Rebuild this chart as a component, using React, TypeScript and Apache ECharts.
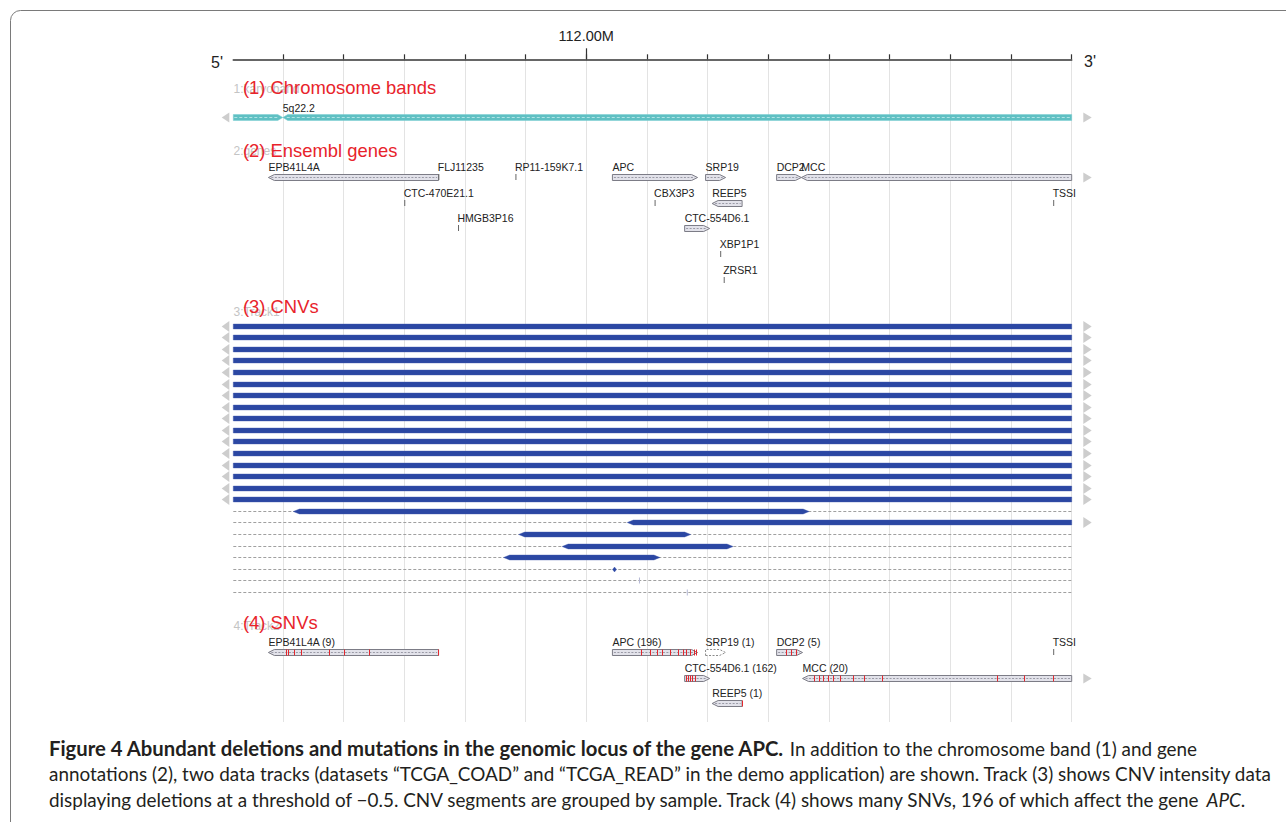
import React, { useEffect, useRef } from "react";
import * as echarts from "echarts";

// ---------------- data ----------------
const VIEW_START = 111.4185; // Mb, left edge of the view
const VIEW_END = 112.8; // Mb, right edge of the view
const tickValues = [111.5, 111.6, 111.7, 111.8, 111.9, 112.0, 112.1, 112.2, 112.3, 112.4, 112.5, 112.6, 112.7, 112.8];
const majorTickValues = [112.0];
const majorTickLabel = "112.00M";

// chromosome bands (Mb)
const bandNames = ["5q22.1", "5q22.2"];
const bandStarts = [109.6, 111.5];
const bandEnds = [111.5, 113.1];

// Ensembl genes: name, start, end (Mb), strand (+1/-1, 0 = tiny), row
const ensemblGenes: [string, number, number, number, number][] = [
  ["EPB41L4A", 111.4763, 111.7568, -1, 0],
  ["FLJ11235", 111.7563, 111.7563, 0, 0],
  ["RP11-159K7.1", 111.8834, 111.8834, 0, 0],
  ["APC", 112.0432, 112.1835, 1, 0],
  ["SRP19", 112.1967, 112.2297, 1, 0],
  ["DCP2", 112.3138, 112.3545, 1, 0],
  ["MCC", 112.3545, 112.8245, -1, 0],
  ["CTC-470E21.1", 111.7002, 111.7002, 0, 1],
  ["CBX3P3", 112.1127, 112.1127, 0, 1],
  ["REEP5", 112.2075, 112.2569, -1, 1],
  ["TSSI", 112.7695, 112.7695, 0, 1],
  ["HMGB3P16", 111.7888, 111.7888, 0, 2],
  ["CTC-554D6.1", 112.1622, 112.2035, 1, 2],
  ["XBP1P1", 112.2208, 112.2208, 0, 3],
  ["ZRSR1", 112.2266, 112.2266, 0, 4],
];

// CNV deletion segments (Mb), one per sample row
const cnvSegments: [number, number][] = [
  [111.3, 113.0],
  [111.3, 113.0],
  [111.3, 113.0],
  [111.3, 113.0],
  [111.3, 113.0],
  [111.3, 113.0],
  [111.3, 113.0],
  [111.3, 113.0],
  [111.3, 113.0],
  [111.3, 113.0],
  [111.3, 113.0],
  [111.3, 113.0],
  [111.3, 113.0],
  [111.3, 113.0],
  [111.3, 113.0],
  [111.3, 113.0],
  [111.5175, 112.3673],
  [112.0677, 113.0],
  [111.8888, 112.1721],
  [111.9604, 112.2419],
  [111.864, 112.1215],
  [112.0434, 112.05],
  [112.0878, 112.0879],
  [112.1666, 112.1667],
];

// SNV-annotated genes: label, start, end (Mb), strand, row, dashed outline
const snvGenes: [string, number, number, number, number, number][] = [
  ["EPB41L4A (9)", 111.4763, 111.7568, -1, 0, 0],
  ["APC (196)", 112.0432, 112.1835, 1, 0, 0],
  ["SRP19 (1)", 112.1967, 112.2297, 1, 0, 1],
  ["DCP2 (5)", 112.3138, 112.3565, 1, 0, 0],
  ["TSSI", 112.7695, 112.7695, 0, 0, 0],
  ["CTC-554D6.1 (162)", 112.1622, 112.2035, 1, 1, 0],
  ["MCC (20)", 112.3565, 112.8245, -1, 1, 0],
  ["REEP5 (1)", 112.2075, 112.2569, -1, 2, 0],
];

// SNV sites: position (Mb), row
const snvSites: [number, number][] = [
  [111.505, 0], [111.506, 0], [111.5088, 0], [111.5187, 0], [111.5302, 0],
  [111.5764, 0], [111.6012, 0], [111.6424, 0], [111.755, 0],
  [112.0908, 0], [112.1045, 0], [112.116, 0], [112.1254, 0], [112.1375, 0],
  [112.1512, 0], [112.1594, 0], [112.165, 0], [112.171, 0], [112.1776, 0], [112.1804, 0],
  [112.3292, 0], [112.3375, 0], [112.3457, 0],
  [112.1638, 1], [112.1671, 1], [112.1704, 1], [112.1746, 1], [112.1787, 1],
  [112.3756, 1], [112.3838, 1], [112.3895, 1], [112.3977, 1], [112.406, 1], [112.4185, 1],
  [112.4389, 1], [112.4581, 1], [112.4873, 1], [112.6771, 1], [112.7212, 1], [112.77, 1],
  [112.2565, 2],
];

const trackIds = ["1:karyoband", "2:genes", "3:Track1", "4:Track2"];
const trackTitles = ["(1) Chromosome bands", "(2) Ensembl genes", "(3) CNVs", "(4) SNVs"];

const captionBold = "Figure 4 Abundant deletions and mutations in the genomic locus of the gene APC.";
const captionLine1 = " In addition to the chromosome band (1) and gene";
const captionLine2 =
  "annotations (2), two data tracks (datasets \u201CTCGA_COAD\u201D and \u201CTCGA_READ\u201D in the demo application) are shown. Track (3) shows CNV intensity data";
const captionLine3a =
  "displaying deletions at a threshold of \u22120.5. CNV segments are grouped by sample. Track (4) shows many SNVs, 196 of which affect the gene";
const captionLine3b = "APC";
const captionLine3c = ".";

// ---------------- layout (pixels) ----------------
const W = 1286;
const H = 822;
const GRID = { left: 233.3, right: 214.3, top: 59.3, bottom: 100 };
const Y_MAX = H - GRID.top - GRID.bottom;
const ROWS = { band: 57.4, gene0: 117.4, geneStep: 25.8, cnv0: 266.4, cnvStep: 11.57, snv0: 593, snvStep: 25.5 };
const trackLabelY = [
  [89, 87.5],
  [150.5, 150],
  [311.5, 306.5],
  [625.5, 622],
];
const captionY = [748, 773.5, 799];

const SMALL_FONT = '10.5px "Liberation Sans", Arial, sans-serif';
const CAP_FONT = "Lato";
const CAP_SIZE = 18.9;
const CAP_BOLD_SIZE = 20.3;

function txt(text: string, x: number, y: number, font: string, fill: string, align = "left") {
  return {
    type: "text",
    style: { text, x, y, font, fill, align, verticalAlign: "middle", textAlign: align, textVerticalAlign: "middle" },
  };
}

function barPoints(x0: number, x1: number, y: number, h: number, tapL: number, tapR: number) {
  const hh = h / 2;
  const pts: number[][] = [];
  if (tapL) {
    pts.push([x0, y], [x0 + tapL, y - hh]);
  } else {
    pts.push([x0, y + hh], [x0, y - hh]);
  }
  if (tapR) {
    pts.push([x1 - tapR, y - hh], [x1, y], [x1 - tapR, y + hh]);
  } else {
    pts.push([x1, y - hh], [x1, y + hh]);
  }
  if (tapL) pts.push([x0 + tapL, y + hh]);
  return pts;
}

function leftTri(left: number, y: number, hh: number) {
  return {
    type: "polygon",
    shape: { points: [[left - 11.6, y], [left - 4, y - hh], [left - 4, y + hh]] },
    style: { fill: "#cdcdcd" },
  };
}
function rightTri(right: number, y: number, hh: number) {
  return {
    type: "polygon",
    shape: { points: [[right + 20, y], [right + 11.6, y - hh], [right + 11.6, y + hh]] },
    style: { fill: "#cdcdcd" },
  };
}

function makeGeneRender(labels: string[], strands: number[], dashedOutline: number[]) {
  return (params: any, api: any) => {
    const i = params.dataIndex;
    const cs = params.coordSys;
    const left = cs.x;
    const right = cs.x + cs.width;
    const s = api.value(0);
    const e = api.value(1);
    const yv = api.value(2);
    const p0 = api.coord([s, yv]);
    const x0raw = p0[0];
    const x1raw = api.coord([e, yv])[0];
    const y = Math.round(p0[1]);
    const children: any[] = [];
    if (e <= s) {
      children.push({
        type: "line",
        shape: { x1: x0raw + 0.5, y1: y - 3, x2: x0raw + 0.5, y2: y + 3 },
        style: { stroke: "#666", lineWidth: 1 },
      });
      children.push(txt(labels[i], x0raw - 0.5, y - 10, SMALL_FONT, "#222"));
    } else {
      const x0 = Math.max(x0raw, left);
      const x1 = Math.min(x1raw, right);
      const w = x1 - x0;
      const t = Math.min(6, w / 2);
      const tapL = strands[i] < 0 && x0raw >= left ? t : 0;
      const tapR = strands[i] > 0 && x1raw <= right ? t : 0;
      const dashed = dashedOutline[i] === 1;
      children.push({
        type: "polygon",
        shape: { points: barPoints(x0, x1, y + 0.5, 6, tapL, tapR) },
        style: dashed
          ? { fill: "#ffffff", stroke: "#8a8a8a", lineWidth: 1, lineDash: [2, 1.5] }
          : { fill: "#e2e2ea", stroke: "#7c7c86", lineWidth: 1 },
      });
      if (!dashed) {
        children.push({
          type: "line",
          shape: { x1: x0 + (tapL ? 3 : 1.5), y1: y + 0.5, x2: x1 - (tapR ? 3 : 1.5), y2: y + 0.5 },
          style: { stroke: "#9a9aa6", lineWidth: 1, lineDash: [2, 1.5] },
        });
      }
      if (x0raw < left) children.push(leftTri(left, y + 0.5, 5));
      if (x1raw > right) children.push(rightTri(right, y + 0.5, 5));
      children.push(txt(labels[i], x0, y - 10, SMALL_FONT, "#222"));
    }
    return { type: "group", children };
  };
}

function renderBand(params: any, api: any) {
  const i = params.dataIndex;
  const cs = params.coordSys;
  const left = cs.x;
  const right = cs.x + cs.width;
  const s = api.value(0);
  const e = api.value(1);
  const yv = api.value(2);
  const p0 = api.coord([s, yv]);
  const x0raw = p0[0];
  const x1raw = api.coord([e, yv])[0];
  const y = Math.round(p0[1]) + 0.5;
  const x0 = Math.max(x0raw, left);
  const x1 = Math.min(x1raw, right);
  const tapL = x0raw >= left ? 5 : 0;
  const tapR = x1raw <= right ? 5 : 0;
  const children: any[] = [
    {
      type: "polygon",
      shape: { points: barPoints(x0, x1, y, 6, tapL, tapR) },
      style: { fill: "#5fc0c3", stroke: "#78cdd0", lineWidth: 0.5 },
    },
    {
      type: "line",
      shape: { x1: x0 + (tapL ? 4 : 1), y1: y, x2: x1 - (tapR ? 4 : 1), y2: y },
      style: { stroke: "#b0e3e4", lineWidth: 1, lineDash: [3, 2] },
    },
  ];
  if (x0raw < left) children.push(leftTri(left, y, 5));
  if (x1raw > right) children.push(rightTri(right, y, 5));
  if (x0raw >= left) children.push(txt(bandNames[i], x0, y - 10, SMALL_FONT, "#222"));
  return { type: "group", children };
}

function renderCnv(params: any, api: any) {
  const cs = params.coordSys;
  const left = cs.x;
  const right = cs.x + cs.width;
  const s = api.value(0);
  const e = api.value(1);
  const yv = api.value(2);
  const p0 = api.coord([s, yv]);
  const x0raw = p0[0];
  const x1raw = api.coord([e, yv])[0];
  const y = Math.round(p0[1]) + 0.5;
  const children: any[] = [];
  const full = x0raw <= left && x1raw >= right;
  if (!full) {
    children.push({
      type: "line",
      shape: { x1: left, y1: y, x2: right, y2: y },
      style: { stroke: "#a0a0a0", lineWidth: 1, lineDash: [3, 2] },
    });
  }
  const x0 = Math.max(x0raw, left);
  const x1 = Math.min(x1raw, right);
  const w = x1 - x0;
  if (w < 1.5) {
    children.push({
      type: "line",
      shape: { x1: x0, y1: y - 3, x2: x0, y2: y + 3 },
      style: { stroke: "#b4b8d4", lineWidth: 1 },
    });
  } else {
    const t = Math.min(6, w / 2);
    const tapL = x0raw >= left ? t : 0;
    const tapR = x1raw <= right ? t : 0;
    children.push({
      type: "polygon",
      shape: { points: barPoints(x0, x1, y, 4.8, tapL, tapR) },
      style: { fill: "#2b47a3", stroke: "rgba(60,85,170,0.45)", lineWidth: 1 },
    });
  }
  if (x0raw < left) children.push(leftTri(left, y, 5.5));
  if (x1raw > right) children.push(rightTri(right, y, 5.5));
  return { type: "group", children };
}

function renderSnv(params: any, api: any) {
  const p = api.coord([api.value(0), api.value(1)]);
  const x = Math.round(p[0]) + 0.5;
  const y = Math.round(p[1]) + 0.5;
  return {
    type: "line",
    shape: { x1: x, y1: y - 3, x2: x, y2: y + 3 },
    style: { stroke: "#e4262c", lineWidth: 1 },
  };
}

export default function App() {
  const ref = useRef<HTMLDivElement>(null);

  useEffect(() => {
    if (!ref.current) return;
    const chart = echarts.init(ref.current, undefined, { renderer: "svg" });

    const bandData = bandNames.map((_, i) => [bandStarts[i], bandEnds[i], ROWS.band]);
    const geneData = ensemblGenes.map((g) => [g[1], g[2], ROWS.gene0 + g[4] * ROWS.geneStep]);
    const cnvData = cnvSegments.map((c, i) => [c[0], c[1], ROWS.cnv0 + i * ROWS.cnvStep]);
    const snvGeneData = snvGenes.map((g) => [g[1], g[2], ROWS.snv0 + g[4] * ROWS.snvStep]);
    const snvData = snvSites.map((s) => [s[0], ROWS.snv0 + s[1] * ROWS.snvStep]);

    const graphics: any[] = [
      {
        type: "rect",
        shape: { x: 10.5, y: 10.5, width: 1300, height: 900, r: 10 },
        style: { fill: "none", stroke: "#7a7a7a", lineWidth: 1 },
        z: 1,
      },
      { ...txt("5'", 217, 62, '16px "Liberation Sans", Arial, sans-serif', "#222", "center"), z: 5 },
      { ...txt("3'", 1090, 61, '16px "Liberation Sans", Arial, sans-serif', "#222", "center"), z: 5 },
    ];
    trackIds.forEach((id, i) => {
      graphics.push({ ...txt(id, 233.5, trackLabelY[i][0], '12px "Liberation Sans", Arial, sans-serif', "#c4c4c4"), z: 5 });
      graphics.push({ ...txt(trackTitles[i], 243, trackLabelY[i][1], '18.4px "Liberation Sans", Arial, sans-serif', "#e8232b"), z: 6 });
    });
    const rich = {
      b: { font: `bold ${CAP_BOLD_SIZE}px ${CAP_FONT}`, fill: "#231f20" },
      r: { font: `${CAP_SIZE}px ${CAP_FONT}`, fill: "#231f20" },
      i: { font: `italic ${CAP_SIZE}px ${CAP_FONT}`, fill: "#231f20" },
    };
    const capLines = [
      `{b|${captionBold}}{r|${captionLine1}}`,
      `{r|${captionLine2}}`,
      `{r|${captionLine3a} }{i|${captionLine3b}}{r|${captionLine3c}}`,
    ];
    capLines.forEach((t, i) => {
      graphics.push({
        type: "text",
        z: 5,
        style: {
          text: t,
          x: 49,
          y: captionY[i],
          rich,
          font: `${CAP_SIZE}px ${CAP_FONT}`,
          fill: "#231f20",
          align: "left",
          verticalAlign: "middle",
          textAlign: "left",
          textVerticalAlign: "middle",
        },
      });
    });

    const option: any = {
      animation: false,
      backgroundColor: "#ffffff",
      grid: { left: GRID.left, right: GRID.right, top: GRID.top, bottom: GRID.bottom, containLabel: false },
      xAxis: [
        {
          type: "value",
          min: VIEW_START,
          max: VIEW_END,
          position: "top",
          axisLine: { show: true, onZero: false, lineStyle: { color: "#333", width: 1.6 } },
          axisTick: { show: true, customValues: tickValues, length: 5, lineStyle: { color: "#333", width: 1.2 } },
          axisLabel: { show: false },
          splitLine: { show: true, lineStyle: { color: "#e3e3e3", width: 1 } },
        },
        {
          type: "value",
          min: VIEW_START,
          max: VIEW_END,
          position: "top",
          axisLine: { show: false, onZero: false },
          axisTick: { show: true, customValues: majorTickValues, length: 11, lineStyle: { color: "#333", width: 1.2 } },
          axisLabel: {
            show: true,
            customValues: majorTickValues,
            formatter: () => majorTickLabel,
            fontSize: 14.5,
            fontFamily: '"Liberation Sans", Arial, sans-serif',
            color: "#222",
            margin: 16,
          },
          splitLine: { show: false },
        },
      ],
      yAxis: { type: "value", min: 0, max: Y_MAX, inverse: true, show: false },
      graphic: graphics,
      series: [
        {
          type: "custom",
          name: "bands",
          renderItem: renderBand,
          data: bandData,
          encode: { x: [0, 1], y: 2 },
          z: 2,
        },
        {
          type: "custom",
          name: "genes",
          renderItem: makeGeneRender(
            ensemblGenes.map((g) => g[0]),
            ensemblGenes.map((g) => g[3]),
            ensemblGenes.map(() => 0)
          ),
          data: geneData,
          encode: { x: [0, 1], y: 2 },
          z: 2,
        },
        {
          type: "custom",
          name: "cnv",
          renderItem: renderCnv,
          data: cnvData,
          encode: { x: [0, 1], y: 2 },
          z: 2,
        },
        {
          type: "custom",
          name: "snvGenes",
          renderItem: makeGeneRender(
            snvGenes.map((g) => g[0]),
            snvGenes.map((g) => g[3]),
            snvGenes.map((g) => g[5])
          ),
          data: snvGeneData,
          encode: { x: [0, 1], y: 2 },
          z: 2,
        },
        {
          type: "custom",
          name: "snv",
          renderItem: renderSnv,
          data: snvData,
          encode: { x: 0, y: 1 },
          z: 3,
        },
      ],
    };
    chart.setOption(option);
    return () => chart.dispose();
  }, []);

  return (
    <div
      ref={ref}
      style={{ position: "fixed", left: 0, top: 0, width: W, height: H, background: "#ffffff" }}
    />
  );
}
